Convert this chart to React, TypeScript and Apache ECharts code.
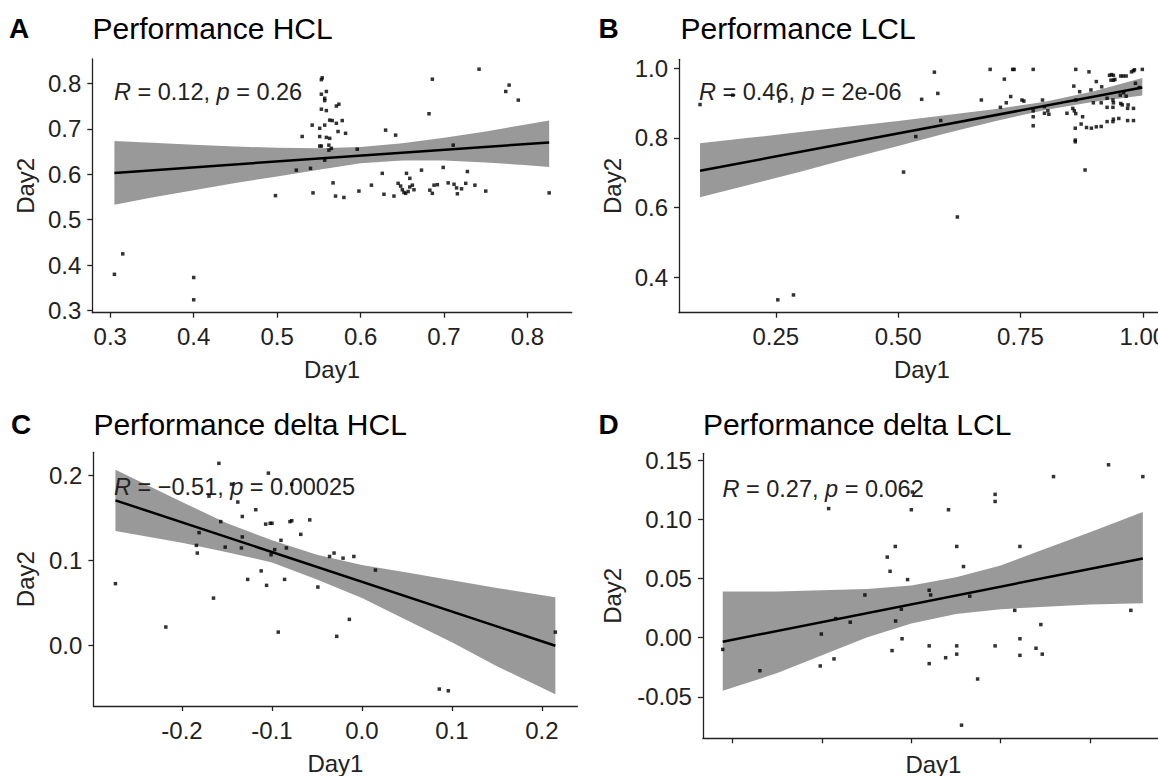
import { useEffect, useRef } from "react";
import * as echarts from "echarts";

const FONT = "'Liberation Sans', Arial, Helvetica, sans-serif";
const INK = "#222222";

// ---------- Panel A: Performance HCL ----------
const hclPerfPoints = [
  [0.305, 0.380], [0.315, 0.425], [0.400, 0.373], [0.400, 0.324], [0.498, 0.553],
  [0.523, 0.609], [0.530, 0.683], [0.540, 0.613], [0.542, 0.708], [0.543, 0.559],
  [0.551, 0.701], [0.553, 0.808], [0.554, 0.812], [0.559, 0.782], [0.553, 0.776],
  [0.557, 0.767], [0.557, 0.762], [0.553, 0.743], [0.559, 0.740], [0.571, 0.750],
  [0.574, 0.754], [0.557, 0.708], [0.563, 0.719], [0.566, 0.718], [0.571, 0.712],
  [0.578, 0.718], [0.551, 0.683], [0.559, 0.681], [0.563, 0.679], [0.573, 0.694],
  [0.582, 0.690], [0.551, 0.662], [0.553, 0.662], [0.562, 0.664], [0.565, 0.657],
  [0.562, 0.653], [0.596, 0.655], [0.557, 0.631], [0.567, 0.581], [0.570, 0.552],
  [0.580, 0.549], [0.598, 0.563], [0.613, 0.576], [0.630, 0.697], [0.642, 0.686],
  [0.626, 0.602], [0.628, 0.556], [0.640, 0.552], [0.645, 0.580], [0.648, 0.574],
  [0.650, 0.566], [0.652, 0.560], [0.654, 0.558], [0.657, 0.562], [0.659, 0.572],
  [0.662, 0.576], [0.664, 0.566], [0.655, 0.602], [0.659, 0.591], [0.673, 0.609],
  [0.682, 0.733], [0.686, 0.809], [0.683, 0.565], [0.686, 0.558], [0.688, 0.576],
  [0.692, 0.577], [0.699, 0.615], [0.705, 0.581], [0.711, 0.664], [0.712, 0.578],
  [0.715, 0.570], [0.716, 0.557], [0.721, 0.568], [0.726, 0.580], [0.728, 0.606],
  [0.737, 0.576], [0.742, 0.831], [0.750, 0.563], [0.774, 0.782], [0.778, 0.796],
  [0.789, 0.763], [0.826, 0.559],
];
const hclPerfFitX = [0.305, 0.826];
const hclPerfFitY = [0.603, 0.670];
const hclPerfBandX = [0.305, 0.35, 0.4, 0.45, 0.5, 0.55, 0.6, 0.65, 0.7, 0.75, 0.8, 0.826];
const hclPerfBandLo = [0.533, 0.549, 0.565, 0.581, 0.595, 0.610, 0.624, 0.630, 0.630, 0.626, 0.620, 0.616];
const hclPerfBandHi = [0.673, 0.669, 0.665, 0.661, 0.658, 0.657, 0.660, 0.668, 0.680, 0.694, 0.710, 0.718];
const hclPerfXTicks = [0.3, 0.4, 0.5, 0.6, 0.7, 0.8];
const hclPerfXLabels = ["0.3", "0.4", "0.5", "0.6", "0.7", "0.8"];
const hclPerfYTicks = [0.3, 0.4, 0.5, 0.6, 0.7, 0.8];
const hclPerfYLabels = ["0.3", "0.4", "0.5", "0.6", "0.7", "0.8"];

// ---------- Panel B: Performance LCL ----------
const lclPerfPoints = [
  [0.095, 0.896], [0.162, 0.923], [0.258, 0.906], [0.254, 0.335], [0.286, 0.349],
  [0.511, 0.702], [0.536, 0.804], [0.548, 0.911], [0.574, 0.989], [0.581, 0.928],
  [0.587, 0.850], [0.621, 0.573], [0.670, 0.909], [0.688, 0.997], [0.709, 0.888],
  [0.717, 0.969], [0.721, 0.901], [0.730, 0.919], [0.734, 0.997], [0.737, 0.997],
  [0.753, 0.909], [0.757, 0.906], [0.776, 0.997], [0.776, 0.878], [0.776, 0.861],
  [0.776, 0.835], [0.795, 0.909], [0.799, 0.890], [0.806, 0.878], [0.808, 0.868],
  [0.799, 0.871], [0.845, 0.871], [0.863, 0.997], [0.859, 0.949], [0.863, 0.909],
  [0.857, 0.885], [0.860, 0.878], [0.863, 0.870], [0.862, 0.828], [0.862, 0.794],
  [0.862, 0.789], [0.871, 0.933], [0.877, 0.861], [0.874, 0.840], [0.882, 0.708],
  [0.885, 0.830], [0.890, 0.990], [0.894, 0.938], [0.895, 0.828], [0.899, 0.901],
  [0.905, 0.962], [0.905, 0.832], [0.915, 0.901], [0.915, 0.833], [0.916, 0.947],
  [0.927, 0.914], [0.927, 0.888], [0.927, 0.847], [0.932, 0.980], [0.936, 0.982],
  [0.940, 0.980], [0.935, 0.966], [0.940, 0.966], [0.943, 0.968], [0.939, 0.909],
  [0.939, 0.888], [0.939, 0.847], [0.940, 0.901], [0.940, 0.854], [0.951, 0.856],
  [0.954, 0.923], [0.955, 0.978], [0.960, 0.978], [0.966, 0.978], [0.955, 0.899],
  [0.958, 0.895], [0.961, 0.930], [0.966, 0.920], [0.969, 0.885], [0.969, 0.850],
  [0.970, 0.895], [0.977, 0.990], [0.981, 0.993], [0.983, 0.996], [0.981, 0.885],
  [0.981, 0.850], [0.985, 0.957], [0.993, 0.945], [0.999, 0.997],
];
const lclPerfFitX = [0.095, 0.999];
const lclPerfFitY = [0.706, 0.945];
const lclPerfBandX = [0.095, 0.2, 0.3, 0.4, 0.5, 0.6, 0.7, 0.8, 0.9, 0.999];
const lclPerfBandLo = [0.630, 0.667, 0.703, 0.741, 0.777, 0.814, 0.849, 0.880, 0.904, 0.922];
const lclPerfBandHi = [0.785, 0.801, 0.817, 0.833, 0.849, 0.866, 0.883, 0.904, 0.934, 0.972];
const lclPerfXTicks = [0.25, 0.5, 0.75, 1.0];
const lclPerfXLabels = ["0.25", "0.50", "0.75", "1.00"];
const lclPerfYTicks = [0.4, 0.6, 0.8, 1.0];
const lclPerfYLabels = ["0.4", "0.6", "0.8", "1.0"];

// ---------- Panel C: Performance delta HCL ----------
const hclDeltaPoints = [
  [-0.274, 0.073], [-0.218, 0.022], [-0.184, 0.118], [-0.183, 0.109], [-0.181, 0.133],
  [-0.170, 0.176], [-0.165, 0.056], [-0.159, 0.2145], [-0.157, 0.146], [-0.152, 0.116],
  [-0.145, 0.190], [-0.138, 0.169], [-0.133, 0.152], [-0.134, 0.115], [-0.133, 0.128],
  [-0.127, 0.078], [-0.118, 0.160], [-0.112, 0.088], [-0.107, 0.143], [-0.106, 0.071],
  [-0.104, 0.203], [-0.102, 0.144], [-0.100, 0.144], [-0.101, 0.107], [-0.097, 0.113],
  [-0.093, 0.016], [-0.090, 0.124], [-0.086, 0.078], [-0.084, 0.115], [-0.080, 0.146],
  [-0.078, 0.147], [-0.078, 0.190], [-0.068, 0.131], [-0.058, 0.148], [-0.049, 0.069],
  [-0.036, 0.105], [-0.031, 0.109], [-0.028, 0.011], [-0.021, 0.103], [-0.014, 0.031],
  [-0.009, 0.105], [0.015, 0.089], [0.086, -0.051], [0.096, -0.053], [0.215, 0.016],
];
const hclDeltaFitX = [-0.274, 0.215];
const hclDeltaFitY = [0.171, 0.0];
const hclDeltaBandX = [-0.274, -0.2, -0.15, -0.1, -0.05, 0.0, 0.05, 0.1, 0.15, 0.215];
const hclDeltaBandLo = [0.135, 0.121, 0.110, 0.098, 0.078, 0.056, 0.030, 0.004, -0.024, -0.057];
const hclDeltaBandHi = [0.207, 0.169, 0.144, 0.124, 0.107, 0.095, 0.086, 0.077, 0.068, 0.057];
const hclDeltaXTicks = [-0.2, -0.1, 0.0, 0.1, 0.2];
const hclDeltaXLabels = ["-0.2", "-0.1", "0.0", "0.1", "0.2"];
const hclDeltaYTicks = [0.0, 0.1, 0.2];
const hclDeltaYLabels = ["0.0", "0.1", "0.2"];

// ---------- Panel D: Performance delta LCL ----------
const lclDeltaPoints = [
  [-0.1056, -0.010], [-0.0848, -0.028], [-0.0510, -0.024], [-0.0504, 0.003], [-0.0463, 0.109],
  [-0.0433, -0.018], [-0.0423, 0.016], [-0.0342, 0.013], [-0.0260, 0.036], [-0.0135, 0.068],
  [-0.0119, 0.056], [-0.0108, -0.011], [-0.0090, 0.077], [-0.0088, 0.014], [-0.0056, 0.024],
  [-0.0052, -0.001], [-0.0021, 0.049], [0.0000, 0.108], [0.0006, 0.123], [0.0100, 0.040],
  [0.0108, 0.036], [0.0100, -0.007], [0.0100, -0.022], [0.0192, -0.017], [0.0208, 0.108],
  [0.0254, 0.077], [0.0254, -0.007], [0.0254, -0.014], [0.0281, -0.074], [0.0292, 0.060],
  [0.0327, 0.035], [0.0371, -0.035], [0.0469, 0.121], [0.0469, 0.115], [0.0469, -0.007],
  [0.0579, 0.023], [0.0608, 0.077], [0.0608, -0.001], [0.0608, -0.015], [0.0698, -0.009],
  [0.0725, 0.011], [0.0733, -0.014], [0.0796, 0.136], [0.1104, 0.146], [0.1229, 0.023],
  [0.1296, 0.136],
];
const lclDeltaFitX = [-0.1056, 0.1296];
const lclDeltaFitY = [-0.0035, 0.0669];
const lclDeltaBandX = [-0.1056, -0.075, -0.05, -0.025, 0.0, 0.025, 0.05, 0.075, 0.1, 0.1296];
const lclDeltaBandLo = [-0.045, -0.030, -0.015, 0.000, 0.012, 0.020, 0.024, 0.026, 0.028, 0.029];
const lclDeltaBandHi = [0.039, 0.039, 0.040, 0.041, 0.044, 0.051, 0.061, 0.075, 0.089, 0.106];
const lclDeltaXTicks = [-0.1, -0.05, 0.0, 0.05, 0.1];
const lclDeltaXLabels = ["", "", "", "", ""];
const lclDeltaYTicks = [-0.05, 0.0, 0.05, 0.1, 0.15];
const lclDeltaYLabels = ["-0.05", "0.00", "0.05", "0.10", "0.15"];

type Panel = {
  letter: string;
  title: string;
  stat: string;
  points: number[][];
  fitX: number[];
  fitY: number[];
  bandX: number[];
  bandLo: number[];
  bandHi: number[];
  xTicks: number[];
  xLabels: string[];
  yTicks: number[];
  yLabels: string[];
  xRange: [number, number];
  yRange: [number, number];
  grid: { left: number; top: number; width: number; height: number };
  letterX: number;
  titleX: number;
  titleY: number;
  statX: number;
  statY: number;
  xNameGap: number;
  yNameGap: number;
};

const panels: Panel[] = [
  {
    letter: "A", title: "Performance HCL", stat: "{i|R} = 0.12, {i|p} = 0.26",
    points: hclPerfPoints, fitX: hclPerfFitX, fitY: hclPerfFitY,
    bandX: hclPerfBandX, bandLo: hclPerfBandLo, bandHi: hclPerfBandHi,
    xTicks: hclPerfXTicks, xLabels: hclPerfXLabels, yTicks: hclPerfYTicks, yLabels: hclPerfYLabels,
    xRange: [0.2785, 0.853], yRange: [0.2956, 0.8534],
    grid: { left: 92.3, top: 59, width: 479.4, height: 253.7 },
    letterX: 9, titleX: 92.6, titleY: 28.3, statX: 114, statY: 92,
    xNameGap: 45, yNameGap: 55,
  },
  {
    letter: "B", title: "Performance LCL", stat: "{i|R} = 0.46, {i|p} = 2e-06",
    points: lclPerfPoints, fitX: lclPerfFitX, fitY: lclPerfFitY,
    bandX: lclPerfBandX, bandLo: lclPerfBandLo, bandHi: lclPerfBandHi,
    xTicks: lclPerfXTicks, xLabels: lclPerfXLabels, yTicks: lclPerfYTicks, yLabels: lclPerfYLabels,
    xRange: [0.052, 1.045], yRange: [0.298, 1.026],
    grid: { left: 679, top: 59.3, width: 485.8, height: 253.4 },
    letterX: 598.6, titleX: 680.6, titleY: 28.3, statX: 699, statY: 92,
    xNameGap: 45, yNameGap: 55,
  },
  {
    letter: "C", title: "Performance delta HCL", stat: "{i|R} = \u22120.51, {i|p} = 0.00025",
    points: hclDeltaPoints, fitX: hclDeltaFitX, fitY: hclDeltaFitY,
    bandX: hclDeltaBandX, bandLo: hclDeltaBandLo, bandHi: hclDeltaBandHi,
    xTicks: hclDeltaXTicks, xLabels: hclDeltaXLabels, yTicks: hclDeltaYTicks, yLabels: hclDeltaYLabels,
    xRange: [-0.2985, 0.2395], yRange: [-0.0709, 0.2275],
    grid: { left: 93.4, top: 452.3, width: 484, height: 253.7 },
    letterX: 11, titleX: 93.4, titleY: 424, statX: 114, statY: 486.7,
    xNameGap: 45, yNameGap: 56,
  },
  {
    letter: "D", title: "Performance delta LCL", stat: "{i|R} = 0.27, {i|p} = 0.062",
    points: lclDeltaPoints, fitX: lclDeltaFitX, fitY: lclDeltaFitY,
    bandX: lclDeltaBandX, bandLo: lclDeltaBandLo, bandHi: lclDeltaBandHi,
    xTicks: lclDeltaXTicks, xLabels: lclDeltaXLabels, yTicks: lclDeltaYTicks, yLabels: lclDeltaYLabels,
    xRange: [-0.1167, 0.1414], yRange: [-0.0851, 0.1557],
    grid: { left: 702.9, top: 453.3, width: 461, height: 285 },
    letterX: 598.6, titleX: 702.9, titleY: 424, statX: 722.5, statY: 488.8,
    xNameGap: 14, yNameGap: 78,
  },
];

function labelFor(ticks: number[], labels: string[]) {
  return (v: number) => {
    for (let k = 0; k < ticks.length; k++) {
      if (Math.abs(ticks[k] - v) < 1e-9) return labels[k];
    }
    return "";
  };
}

function buildOption() {
  const grid: any[] = [];
  const xAxis: any[] = [];
  const yAxis: any[] = [];
  const series: any[] = [];
  const graphic: any[] = [];

  const axisLine = { show: true, onZero: false, lineStyle: { color: INK, width: 1.3 } };
  const tickStyle = { color: INK, width: 1.3 };
  const labelStyle = { fontFamily: FONT, fontSize: 24, color: INK };

  panels.forEach((p, i) => {
    grid.push({ ...p.grid, containLabel: false, outerBoundsMode: "none" });
    xAxis.push({
      gridIndex: i, type: "value", min: p.xRange[0], max: p.xRange[1],
      name: "Day1", nameLocation: "middle", nameGap: p.xNameGap,
      nameTextStyle: { fontFamily: FONT, fontSize: 24, color: INK },
      axisLine,
      axisTick: { show: true, length: 5, lineStyle: tickStyle, customValues: p.xTicks },
      axisLabel: { ...labelStyle, margin: 12, customValues: p.xTicks, formatter: labelFor(p.xTicks, p.xLabels) },
      splitLine: { show: false },
    });
    yAxis.push({
      gridIndex: i, type: "value", min: p.yRange[0], max: p.yRange[1],
      name: "Day2", nameLocation: "middle", nameGap: p.yNameGap, nameRotate: 90,
      nameTextStyle: { fontFamily: FONT, fontSize: 24, color: INK },
      axisLine,
      axisTick: { show: true, length: 5, lineStyle: tickStyle, customValues: p.yTicks },
      axisLabel: { ...labelStyle, margin: 11, customValues: p.yTicks, formatter: labelFor(p.yTicks, p.yLabels) },
      splitLine: { show: false },
    });
    const bx = p.bandX, lo = p.bandLo, hi = p.bandHi;
    series.push({
      type: "custom", xAxisIndex: i, yAxisIndex: i, z: 1, silent: true,
      data: [[bx[0], lo[0]]],
      renderItem: (_params: any, api: any) => {
        const pts: number[][] = [];
        for (let k = 0; k < bx.length; k++) pts.push(api.coord([bx[k], hi[k]]));
        for (let k = bx.length - 1; k >= 0; k--) pts.push(api.coord([bx[k], lo[k]]));
        return { type: "polygon", shape: { points: pts }, style: { fill: "#999999" } };
      },
    });
    series.push({
      type: "scatter", xAxisIndex: i, yAxisIndex: i, z: 3, silent: true,
      symbol: "rect", symbolSize: 3.5,
      itemStyle: { color: "#000000" },
      data: p.points,
    });
    series.push({
      type: "line", xAxisIndex: i, yAxisIndex: i, z: 4, silent: true,
      symbol: "none", showSymbol: false,
      lineStyle: { color: "#000000", width: 2.5 },
      data: p.fitX.map((x, k) => [x, p.fitY[k]]),
    });
    graphic.push({
      type: "text", x: p.letterX, y: p.titleY, silent: true, z: 100,
      style: { text: p.letter, fontFamily: FONT, fontSize: 28, fontWeight: "bold", fill: "#000", verticalAlign: "middle" },
    });
    graphic.push({
      type: "text", x: p.titleX, y: p.titleY, silent: true, z: 100,
      style: { text: p.title, fontFamily: FONT, fontSize: 30, fill: "#000", verticalAlign: "middle" },
    });
    graphic.push({
      type: "text", x: p.statX, y: p.statY, silent: true, z: 2, zlevel: 0,
      style: {
        text: p.stat, fontFamily: FONT, fontSize: 23.5, fill: INK, verticalAlign: "middle",
        rich: { i: { fontFamily: FONT, fontSize: 23.5, fontStyle: "italic", fill: INK } },
      },
    });
  });

  return {
    animation: false,
    backgroundColor: "#ffffff",
    grid, xAxis, yAxis, series, graphic,
  };
}

export default function App() {
  const ref = useRef<HTMLDivElement | null>(null);
  useEffect(() => {
    if (!ref.current) return;
    const chart = echarts.init(ref.current, undefined, { renderer: "svg" });
    chart.setOption(buildOption() as any);
    return () => chart.dispose();
  }, []);
  return (
    <div
      ref={ref}
      style={{ position: "absolute", left: 0, top: 0, width: 1158, height: 776, background: "#fff" }}
    />
  );
}
